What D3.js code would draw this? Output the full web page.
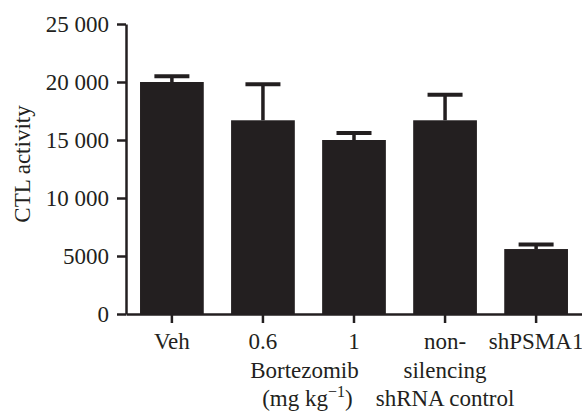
<!DOCTYPE html>
<html><head><meta charset="utf-8">
<script src="https://cdn.jsdelivr.net/npm/d3@7"></script>
<style>body{margin:0;background:#fff}svg{display:block}text{font-family:"Liberation Serif","Times New Roman",serif;fill:#231f20}</style>
</head><body><svg id="c" width="582" height="416"></svg>
<script>
const categories = ["Veh", "0.6", "1", "non-", "shPSMA1"];
const means = [20000, 16700, 15000, 16700, 5600];
const errTops = [20500, 19800, 15600, 18900, 6000];
const yTicks = [0, 5000, 10000, 15000, 20000, 25000];
const yTickLabels = ["0", "5000", "10 000", "15 000", "20 000", "25 000"];
const yLabel = "CTL activity";

const svg = d3.select("#c");
const ink = "#231f20";
const fs = 23;
const x = d3.scaleBand().domain(categories).range([126, 582]).paddingInner(0.3).paddingOuter(0.154);
const y = d3.scaleLinear().domain([0, 25000]).range([314, 24]);

// bars
svg.selectAll("rect.bar").data(categories).join("rect")
  .attr("x", d => x(d)).attr("width", x.bandwidth())
  .attr("y", (d,i) => y(means[i])).attr("height", (d,i) => y(0) - y(means[i]))
  .attr("fill", ink);

// error bars
const eg = svg.append("g").attr("stroke", ink);
categories.forEach((d,i) => {
  const cx = x(d) + x.bandwidth()/2;
  eg.append("line").attr("x1", cx).attr("x2", cx).attr("y1", y(means[i])).attr("y2", y(errTops[i])).attr("stroke-width", 3.5);
  eg.append("line").attr("x1", cx - 17.5).attr("x2", cx + 17.5).attr("y1", y(errTops[i])).attr("y2", y(errTops[i])).attr("stroke-width", 4);
});

// y axis
const yAxis = svg.append("g").attr("transform", "translate(126,0)")
  .call(d3.axisLeft(y).tickValues(yTicks).tickFormat((d,i) => yTickLabels[i]).tickSize(9).tickSizeOuter(0).tickPadding(8));
yAxis.select(".domain").attr("stroke", ink).attr("stroke-width", 2.5);
yAxis.selectAll(".tick line").attr("stroke", ink).attr("stroke-width", 2.5);
yAxis.selectAll(".tick text").attr("font-size", fs).attr("fill", ink).style("font-family", '"Liberation Serif",serif');

// x axis
const xAxis = svg.append("g").attr("transform", "translate(0,314)")
  .call(d3.axisBottom(x).tickSize(9).tickSizeOuter(0).tickPadding(0));
xAxis.select(".domain").attr("stroke", ink).attr("stroke-width", 2.5);
xAxis.selectAll(".tick line").attr("stroke", ink).attr("stroke-width", 2.5);
xAxis.selectAll(".tick text").attr("font-size", fs).attr("fill", ink).attr("dy", null).attr("y", 35).style("font-family", '"Liberation Serif",serif');

// extra category lines
const mid23 = (x("0.6") + x("1") + x.bandwidth())/2;
const c4 = x("non-") + x.bandwidth()/2;
svg.append("text").attr("x", mid23 - 4).attr("y", 378).attr("text-anchor", "middle").attr("font-size", fs).text("Bortezomib");
const t = svg.append("text").attr("x", mid23 - 1).attr("y", 406).attr("text-anchor", "middle").attr("font-size", fs);
t.append("tspan").text("(mg kg");
t.append("tspan").attr("dy", -9).attr("font-size", 16).text("\u22121");
t.append("tspan").attr("dy", 9).text(")");
svg.append("text").attr("x", c4).attr("y", 378).attr("text-anchor", "middle").attr("font-size", fs).text("silencing");
svg.append("text").attr("x", c4).attr("y", 406).attr("text-anchor", "middle").attr("font-size", fs).text("shRNA control");

// y label
svg.append("text").attr("transform", "translate(30,164) rotate(-90)").attr("text-anchor", "middle").attr("font-size", fs).text(yLabel);
</script></body></html>
